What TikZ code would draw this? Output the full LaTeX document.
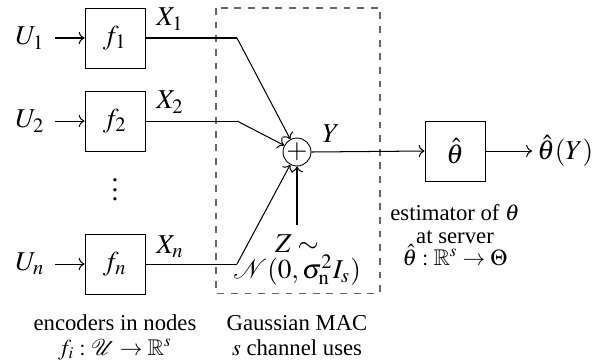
\documentclass[tikz,border=0pt]{standalone}
\usepackage{amssymb}
\usepackage{mathptmx}
\usepackage[no-math]{fontspec}
\setmainfont{Liberation Serif}
\usetikzlibrary{arrows.meta}
\begin{document}
\begin{tikzpicture}[x=0.44pt,y=-0.44pt,
  blk/.style={draw,minimum width=26.4pt,minimum height=26.4pt,inner sep=0pt},
  lbl/.style={inner sep=0pt},
  bl/.style={inner sep=0pt,anchor=base},
  conn/.style={line width=0.45pt},
  arr/.style={conn,->}]
\useasboundingbox (0,0) rectangle (607,362);
% encoders
\node[blk] (f1) at (115,38) {\large $f_1$};
\node[blk] (f2) at (115,121) {\large $f_2$};
\node[blk] (fn) at (115,264) {\large $f_n$};
\node[lbl] (u1) at (30,38) {\large $U_1$};
\node[lbl] (u2) at (30,121) {\large $U_2$};
\node[lbl] (un) at (30,264) {\large $U_n$};
\node[lbl] (dots) at (115,183) {\large $\vdots$};
\draw[arr] (u1) ++(25,0) coordinate (u1e) -- (f1.west);
\draw[arr] (u2) ++(25,0) coordinate (u2e) -- (f2.west);
\draw[arr] (un) ++(25,0) coordinate (une) -- (fn.west);
% channel
\draw[dashed,line width=0.45pt,gray!80!black] (216,8) rectangle (380,293);
\node[draw,circle,minimum size=12.3pt,inner sep=0pt] (sum) at (297,152) {\large $+$};
\coordinate (k1) at (237,38);
\coordinate (k2) at (237,121);
\coordinate (kn) at (237,264);
\coordinate (kz) at (297,225);
\draw[conn] (f1.east) -- (k1);
\draw[arr] (k1) -- (sum);
\draw[conn] (f2.east) -- (k2);
\draw[arr] (k2) -- (sum);
\draw[conn] (fn.east) -- (kn);
\draw[arr] (kn) -- (sum);
\draw[arr] (kz) -- (sum);
\node[lbl] (x1) at (170,19) {\large $X_1$};
\node[lbl] (x2) at (170,102) {\large $X_2$};
\node[lbl] (xn) at (170,247) {\large $X_n$};
\node[bl] (z) at (297,252) {\large $Z\sim$};
\node[bl] (zn) at (297,278) {\large $\mathcal{N}(0,\sigma_{\mathrm{n}}^2 I_s)$};
\node[lbl] (y) at (331,134) {\large $Y$};
% estimator
\node[blk] (th) at (455,151) {\large $\hat\theta$};
\draw[arr] (sum.east) -- (th.west);
\node[lbl,anchor=west] (out) at (537,151) {\large $\hat\theta(Y)$};
\draw[arr] (th.east) -- ([xshift=-2.2pt]out.west);
\node[bl] (e1) at (455,220) {estimator of $\theta$};
\node[bl] (e2) at (455,243) {at server};
\node[bl] (e3) at (455,265) {$\hat\theta:\mathbb{R}^s\rightarrow\Theta$};
% bottom labels
\node[bl] (b1) at (115,330) {encoders in nodes};
\node[bl] (b2) at (115,355) {$f_i:\mathcal{U}\rightarrow\mathbb{R}^s$};
\node[bl] (c1) at (297,330) {Gaussian MAC};
\node[bl] (c2) at (297,355) {$s$ channel uses};
\end{tikzpicture}
\end{document}
